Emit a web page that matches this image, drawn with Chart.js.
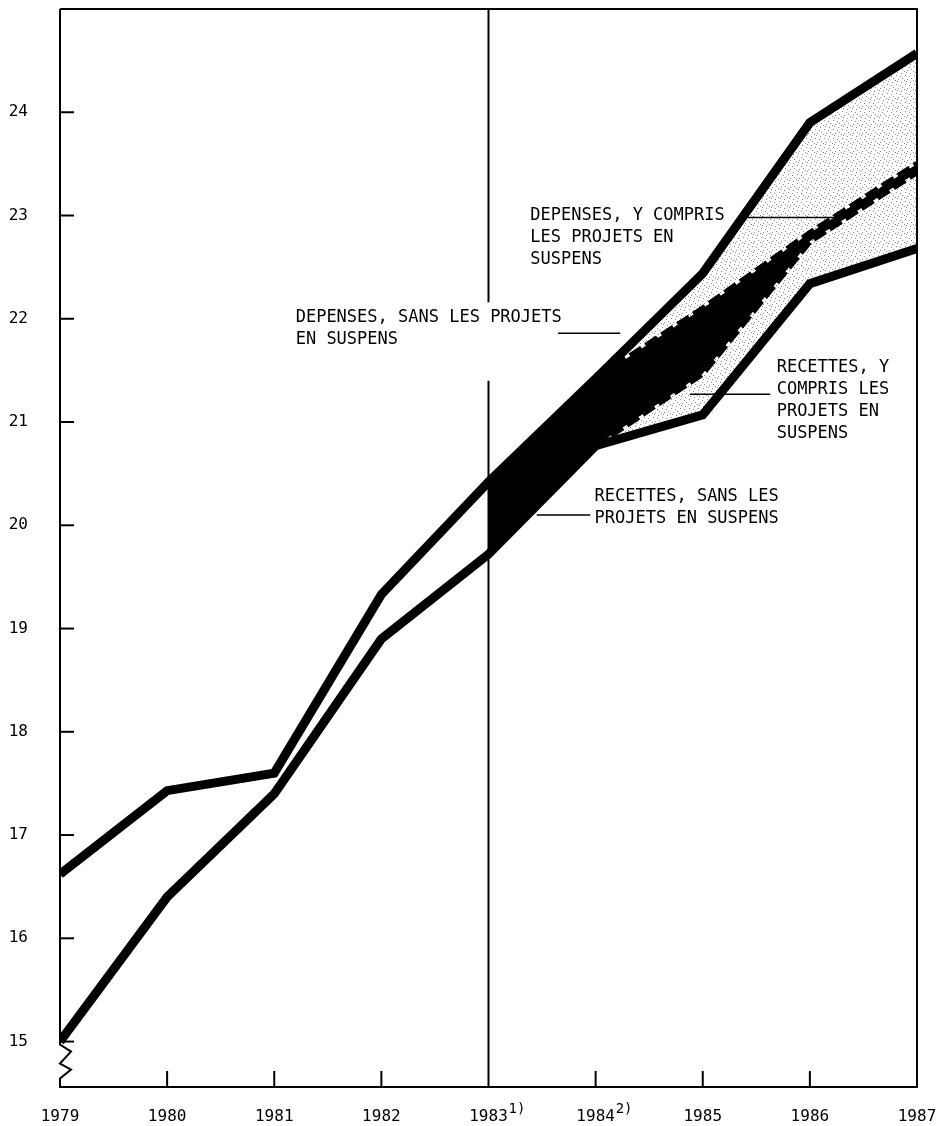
<!DOCTYPE html>
<html>
<head>
<meta charset="utf-8">
<script src="https://cdn.jsdelivr.net/npm/chart.js@4.4.1/dist/chart.umd.min.js"></script>
<style>
  html, body { margin: 0; padding: 0; background: #fff; }
  #wrap { width: 936px; height: 1126px; }
</style>
</head>
<body>
<div id="wrap"><canvas id="chart" width="936" height="1126"></canvas></div>
<script>
const years = [1979, 1980, 1981, 1982, 1983, 1984, 1985, 1986, 1987];
const yTicks = [15, 16, 17, 18, 19, 20, 21, 22, 23, 24];
// outer thick lines = y compris les projets en suspens
const depensesAvec = [16.62, 17.43, 17.6, 19.33, 20.42, 21.42, 22.44, 23.9, 24.57];
const recettesAvec = [15.0, 16.4, 17.4, 18.9, 19.72, 20.77, 21.07, 22.34, 22.68];
// sans les projets en suspens (only from 1983)
const depensesSans = [null, null, null, null, 20.42, 21.42, 22.1, 22.83, 23.5];
const recettesSans = [null, null, null, null, 19.72, 20.77, 21.47, 22.75, 23.42];
const footnotes = { 1983: '1)', 1984: '2)' };
const shadeFrom = 1983;

// text notes, anchored in data units
const notes = [
  { lines: ['DEPENSES, Y COMPRIS', 'LES PROJETS EN', 'SUSPENS'], x: 1983.39, y: 23.0, leader: [1985.42, 1986.28, 22.98] },
  { lines: ['DEPENSES, SANS LES PROJETS', 'EN SUSPENS'], x: 1981.2, y: 22.01, leader: [1983.65, 1984.23, 21.86] },
  { lines: ['RECETTES, Y', 'COMPRIS LES', 'PROJETS EN', 'SUSPENS'], x: 1985.69, y: 21.53, leader: [1984.88, 1985.63, 21.27] },
  { lines: ['RECETTES, SANS LES', 'PROJETS EN SUSPENS'], x: 1983.99, y: 20.28, leader: [1983.45, 1983.95, 20.1] }
];

const toPoints = (vals, from) => years
  .map((x, i) => ({ x, y: vals[i] }))
  .filter(p => p.y != null && (from == null || p.x >= from));

const canvas = document.getElementById('chart');
const ctx = canvas.getContext('2d');

function stipple() {
  const c = document.createElement('canvas');
  c.width = 9; c.height = 9;
  const g = c.getContext('2d');
  g.fillStyle = '#8a8a8a';
  [[1, 1], [5, 3], [2, 6], [7, 7], [6, 0], [0, 4], [4, 8]].forEach(([a, b]) => g.fillRect(a, b, 1, 1));
  return ctx.createPattern(c, 'repeat');
}

const lineStyle = { borderColor: '#000', pointRadius: 0, tension: 0, borderJoinStyle: 'miter', borderCapStyle: 'butt', clip: 0 };

const noPad = s => { s.paddingLeft = 0; s.paddingRight = 0; s.paddingTop = 0; s.paddingBottom = 0; };

const decor = {
  id: 'decor',
  afterDatasetsDraw(chart) {
    const { ctx, chartArea: a, scales: { x, y } } = chart;
    ctx.save();
    ctx.strokeStyle = '#000';
    ctx.lineWidth = 2;

    // top + right frame
    ctx.beginPath();
    ctx.moveTo(a.left, a.top);
    ctx.lineTo(a.right, a.top);
    ctx.lineTo(a.right, a.bottom);
    ctx.stroke();

    // left axis with break mark under 15
    const y15 = y.getPixelForValue(15);
    ctx.beginPath();
    ctx.moveTo(a.left, a.top);
    ctx.lineTo(a.left, y15 + 3);
    ctx.lineTo(a.left + 11, y15 + 10);
    ctx.lineTo(a.left, y15 + 22);
    ctx.lineTo(a.left + 11, y15 + 28);
    ctx.lineTo(a.left, y15 + 37);
    ctx.lineTo(a.left, a.bottom);
    ctx.stroke();

    // inward y ticks
    yTicks.forEach(v => {
      const py = y.getPixelForValue(v);
      ctx.beginPath();
      ctx.moveTo(a.left, py);
      ctx.lineTo(a.left + 14, py);
      ctx.stroke();
    });

    // upward x ticks
    years.forEach(v => {
      if (v === years[0] || v === years[years.length - 1] || v === shadeFrom) return;
      const px = x.getPixelForValue(v);
      ctx.beginPath();
      ctx.moveTo(px, a.bottom);
      ctx.lineTo(px, a.bottom - 16);
      ctx.stroke();
    });

    // 1983 divider, broken behind the note
    const px83 = x.getPixelForValue(shadeFrom);
    ctx.beginPath();
    ctx.moveTo(px83, a.top);
    ctx.lineTo(px83, y.getPixelForValue(22.16));
    ctx.moveTo(px83, y.getPixelForValue(21.4));
    ctx.lineTo(px83, a.bottom);
    ctx.stroke();

    // footnote marks on the year labels
    ctx.fillStyle = '#000';
    ctx.font = '14px "DejaVu Sans Mono"';
    ctx.textAlign = 'left';
    ctx.textBaseline = 'top';
    Object.keys(footnotes).forEach(k => {
      ctx.fillText(footnotes[k], x.getPixelForValue(+k) + 20, a.bottom + 15);
    });

    // notes + leaders
    ctx.font = '17px "DejaVu Sans Mono"';
    ctx.textBaseline = 'middle';
    ctx.lineWidth = 1.5;
    notes.forEach(n => {
      const tx = x.getPixelForValue(n.x);
      const ty = y.getPixelForValue(n.y);
      n.lines.forEach((t, i) => ctx.fillText(t, tx, ty + i * 22));
      const ly = y.getPixelForValue(n.leader[2]);
      ctx.beginPath();
      ctx.moveTo(x.getPixelForValue(n.leader[0]), ly);
      ctx.lineTo(x.getPixelForValue(n.leader[1]), ly);
      ctx.stroke();
    });
    ctx.restore();
  }
};

new Chart(ctx, {
  type: 'line',
  data: {
    datasets: [
      { ...lineStyle, data: toPoints(depensesAvec), borderWidth: 9, fill: false },
      { ...lineStyle, data: toPoints(recettesAvec), borderWidth: 9, fill: false },
      { ...lineStyle, data: toPoints(depensesSans), borderWidth: 6, borderDash: [14, 5], fill: '+1', backgroundColor: '#000' },
      { ...lineStyle, data: toPoints(recettesSans), borderWidth: 6, borderDash: [14, 5], fill: false },
      { ...lineStyle, data: toPoints(depensesAvec, shadeFrom), borderWidth: 0, fill: '+1', backgroundColor: stipple() },
      { ...lineStyle, data: toPoints(recettesAvec, shadeFrom), borderWidth: 0, fill: false }
    ]
  },
  options: {
    responsive: false,
    animation: false,
    events: [],
    layout: { padding: { left: 0, right: 19, top: 9, bottom: 0 } },
    plugins: {
      legend: { display: false },
      tooltip: { enabled: false },
      filler: { drawTime: 'beforeDatasetsDraw' }
    },
    scales: {
      x: {
        type: 'linear',
        min: 1979,
        max: 1987,
        afterFit: s => { s.height = 39; noPad(s); },
        afterBuildTicks: s => { s.ticks = years.map(v => ({ value: v })); },
        grid: { display: false, drawTicks: false },
        border: { display: true, color: '#000', width: 2 },
        ticks: {
          padding: 20,
          autoSkip: false,
          maxRotation: 0,
          color: '#000',
          font: { family: 'DejaVu Sans Mono', size: 16 },
          callback: v => String(v)
        }
      },
      y: {
        min: 14.56,
        max: 25.0,
        afterFit: s => { s.width = 60; noPad(s); },
        afterBuildTicks: s => { s.ticks = yTicks.map(v => ({ value: v })); },
        grid: { display: false, drawTicks: false },
        border: { display: false },
        ticks: {
          padding: 32,
          color: '#000',
          font: { family: 'DejaVu Sans Mono', size: 16 },
          callback: v => String(v)
        }
      }
    }
  },
  plugins: [decor]
});
</script>
</body>
</html>
